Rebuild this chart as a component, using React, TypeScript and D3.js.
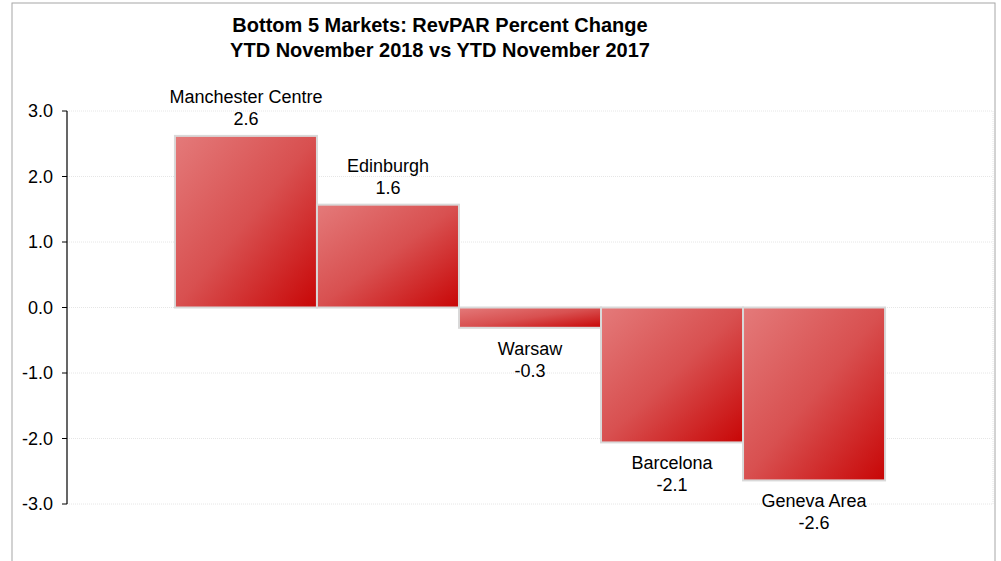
import React from 'react';
import * as d3 from 'd3';

const markets = ['Manchester Centre', 'Edinburgh', 'Warsaw', 'Barcelona', 'Geneva Area'];
const changes = [2.62, 1.57, -0.31, -2.06, -2.64];
const yTicks = [3, 2, 1, 0, -1, -2, -3];
const titleLines = ['Bottom 5 Markets: RevPAR Percent Change', 'YTD November 2018 vs YTD November 2017'];

const W = 1001;
const H = 561;
const plot = { left: 67, right: 993, top: 111, bottom: 504 };
const font = 'Arial, "Liberation Sans", sans-serif';

const App: React.FC = () => {
    const x = d3.scaleBand<string>()
        .domain(markets)
        .range([plot.left, plot.right])
        .paddingInner(0)
        .paddingOuter(0.76);

    const y = d3.scaleLinear()
        .domain([-3, 3])
        .range([plot.bottom, plot.top]);

    // Excel shows a plain hyphen, not the unicode minus
    const fmt = (v: number) => d3.format('.1f')(v).replace('\u2212', '-');

    return (
        <svg width={W} height={H} style={{ position: 'fixed', left: 0, top: 0, background: '#fff' }}>
            <defs>
                <linearGradient id="barFill" x1="0" y1="0" x2="1" y2="1">
                    <stop offset="0%" stopColor="#e47a7a" />
                    <stop offset="50%" stopColor="#d85050" />
                    <stop offset="100%" stopColor="#c80606" />
                </linearGradient>
            </defs>

            {/* chart area border */}
            <rect x={12} y={3} width={983} height={H + 20} fill="none" stroke="#a6a6a6" strokeWidth={1} />

            {/* title */}
            {titleLines.map((t, i) => (
                <text key={t} x={440} y={32 + i * 25} textAnchor="middle"
                    fontFamily={font} fontWeight="bold" fontSize={20} fill="#000">{t}</text>
            ))}

            {/* gridlines */}
            {yTicks.map(t => (
                <line key={'g' + t} x1={plot.left} x2={plot.right} y1={y(t)} y2={y(t)}
                    stroke="#e6e6e6" strokeWidth={1} strokeDasharray="1,1" />
            ))}
            <line x1={plot.right} x2={plot.right} y1={plot.top} y2={plot.bottom}
                stroke="#e6e6e6" strokeWidth={1} strokeDasharray="1,1" />

            {/* bars */}
            {markets.map((m, i) => {
                const v = changes[i];
                const y0 = y(0);
                const y1 = y(v);
                return (
                    <rect key={m} x={x(m)} y={Math.min(y0, y1)} width={x.bandwidth()}
                        height={Math.abs(y1 - y0)} fill="url(#barFill)"
                        stroke="#d9d9d9" strokeWidth={2} />
                );
            })}

            {/* y axis */}
            <line x1={plot.left} x2={plot.left} y1={plot.top} y2={plot.bottom} stroke="#000" strokeWidth={1.2} />
            {yTicks.map(t => (
                <g key={'t' + t}>
                    <line x1={plot.left - 5} x2={plot.left} y1={y(t)} y2={y(t)} stroke="#000" strokeWidth={1} />
                    <text x={53} y={y(t)} dy="0.35em" textAnchor="end"
                        fontFamily={font} fontSize={18} fill="#000">{fmt(t)}</text>
                </g>
            ))}

            {/* data labels */}
            {markets.map((m, i) => {
                const v = changes[i];
                const cx = (x(m) || 0) + x.bandwidth() / 2;
                const yEdge = y(v);
                const nameY = v >= 0 ? yEdge - 33 : yEdge + 27;
                const valY = v >= 0 ? yEdge - 11 : yEdge + 49;
                return (
                    <g key={'l' + m} fontFamily={font} fontSize={18} fill="#000" textAnchor="middle">
                        <text x={cx} y={nameY}>{m}</text>
                        <text x={cx} y={valY}>{fmt(v)}</text>
                    </g>
                );
            })}
        </svg>
    );
};

export default App;
